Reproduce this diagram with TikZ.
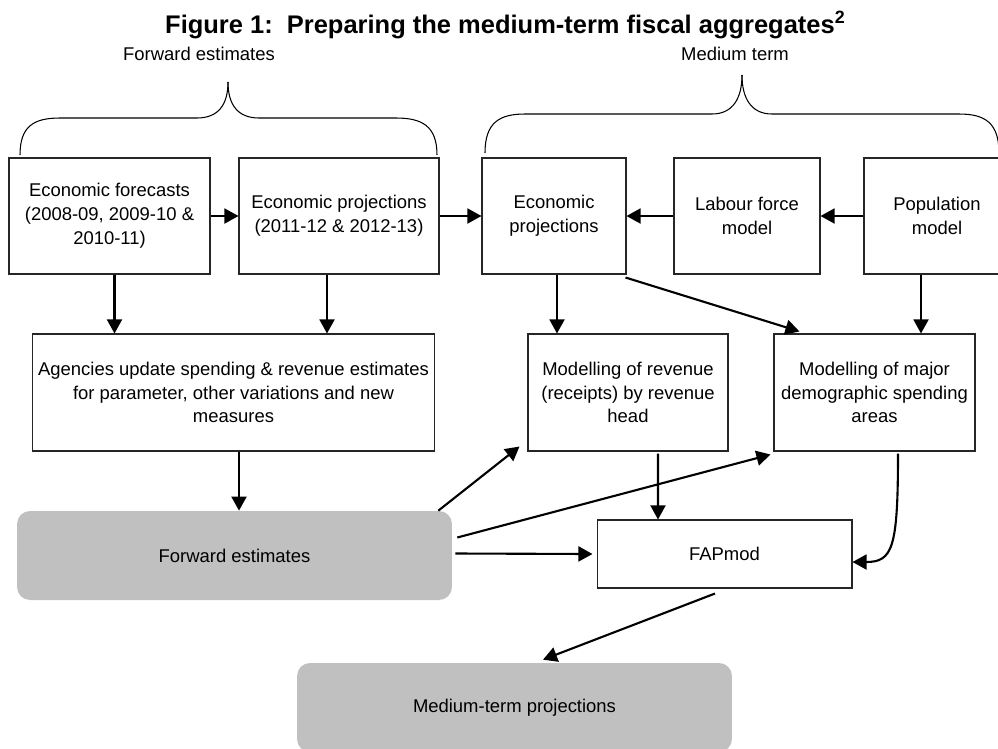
\documentclass[tikz,border=0pt]{standalone}
\usepackage{fontspec}
\setmainfont{Liberation Sans}
\usetikzlibrary{arrows,arrows.meta,positioning}

\definecolor{boxgrey}{RGB}{192,192,192}
\newcommand{\boxfont}{\fontsize{10.5}{13.6}\selectfont}

\tikzset{
    box/.style={draw=black!85, line width=0.6pt, fill=white, align=center, inner sep=0pt, font=\boxfont},
    greybox/.style={fill=boxgrey, rounded corners=7.4pt, align=center, inner sep=0pt, font=\boxfont},
    arr/.style={line width=1.2pt, -{Triangle[length=8pt,width=8.5pt]}},
    brace/.style={line width=0.6pt}
}

\begin{document}
\begin{tikzpicture}[x=0.02cm, y=-0.02cm]
    \useasboundingbox (0,0) rectangle (998,748);
    \clip (0,0) rectangle (998,748);

    % Title
    \node[anchor=base west, font=\fontsize{14.5}{17}\selectfont\bfseries] (title) at (159,33)
        {Figure 1:\ \ Preparing the medium-term fiscal aggregates\textsuperscript{2}};

    % Braces
    \node[anchor=base, font=\boxfont] (fwdlbl) at (199,60) {Forward estimates};
    \node[anchor=base, font=\boxfont] (medlbl) at (735,60) {Medium term};
    \draw[brace] (20,155) .. controls (20,126) and (34,118) .. (60,118) -- (197,118)
        .. controls (218,118) and (228,105) .. (228,82);
    \draw[brace] (228,82) .. controls (228,105) and (238,118) .. (259,118) -- (396,118)
        .. controls (422,118) and (437,126) .. (437,155);
    \draw[brace] (485,153) .. controls (485,122) and (500,114) .. (525,114) -- (712,114)
        .. controls (733,114) and (742,98) .. (742,75);
    \draw[brace] (742,75) .. controls (742,98) and (751,114) .. (772,114) -- (959,114)
        .. controls (984,114) and (999,122) .. (999,153);

    % Top row
    \node[box, minimum width=4.02cm, minimum height=2.32cm] (fcast) at (109.5,216)
        {Economic forecasts\\(2008-09, 2009-10 \&\\2010-11)};
    \node[box, minimum width=4cm, minimum height=2.32cm] (proj1) at (339,216)
        {Economic projections\\(2011-12 \& 2012-13)};
    \node[box, minimum width=2.88cm, minimum height=2.32cm] (proj2) at (554,216)
        {Economic\\projections};
    \node[box, minimum width=2.92cm, minimum height=2.32cm] (labour) at (747,216)
        {Labour force\\model};
    \node[box, minimum width=2.92cm, minimum height=2.32cm] (popn) at (937,216)
        {Population\\model};

    % Middle row
    \node[box, minimum width=8.06cm, minimum height=2.34cm] (agency) at (233.5,392.5)
        {Agencies update spending \& revenue estimates\\for parameter, other variations and new\\measures};
    \node[box, minimum width=4cm, minimum height=2.34cm] (revenue) at (628,392.5)
        {Modelling of revenue\\(receipts) by revenue\\head};
    \node[box, minimum width=4.02cm, minimum height=2.34cm] (demog) at (874.5,392.5)
        {Modelling of major\\demographic spending\\areas};

    % Bottom
    \node[greybox, minimum width=8.7cm, minimum height=1.78cm] (fwd) at (234.5,555.5)
        {Forward estimates};
    \node[box, minimum width=5.1cm, minimum height=1.36cm] (fapmod) at (724.5,554) {FAPmod};
    \node[greybox, minimum width=8.7cm, minimum height=1.78cm] (medterm) at (514.5,707.5)
        {Medium-term projections};

    % Arrows, top row
    \draw[arr] (fcast.east) -- (proj1.west);
    \draw[arr] (proj1.east) -- (proj2.west);
    \draw[arr] (labour.west) -- (proj2.east);
    \draw[arr] (popn.west) -- (labour.east);

    % Arrows, down to the middle row
    \draw[arr] ([xshift=0.1cm]fcast.south) -- ([xshift=0.1cm]fcast.south |- agency.north);
    \draw[arr] ([xshift=-0.24cm]proj1.south) -- ([xshift=-0.24cm]proj1.south |- agency.north);
    \draw[arr] ([xshift=0.06cm]proj2.south) -- ([xshift=0.06cm]proj2.south |- revenue.north);
    \draw[arr] ([shift={(-1,3)}]proj2.south east) -- ([shift={(26,-2)}]demog.north west);
    \draw[arr] ([xshift=-0.32cm]popn.south) -- ([xshift=-0.32cm]popn.south |- demog.north);

    % Arrows, lower part
    \draw[arr] ([xshift=0.11cm]agency.south) -- ([xshift=0.11cm]agency.south |- fwd.north);
    \draw[arr] ([xshift=-0.28cm]fwd.north east) -- ([shift={(-8,-5)}]revenue.south west);
    \draw[arr] ([shift={(5,-18)}]fwd.east) -- ([shift={(-3,3)}]demog.south west);
    \draw[arr] ([shift={(3,-2)}]fwd.east) -- ([xshift=-0.08cm]fapmod.west);
    \draw[arr] ([shift={(30,2)}]revenue.south) -- ([xshift=0.6cm]revenue.south |- fapmod.north);
    \draw[arr] ([shift={(23.5,2)}]demog.south) .. controls +(0,95) and +(40,0) .. ([yshift=-0.16cm]fapmod.east);
    \draw[arr] ([shift={(-9.5,5)}]fapmod.south) -- ([shift={(28.5,-3)}]medterm.north);
\end{tikzpicture}
\end{document}
